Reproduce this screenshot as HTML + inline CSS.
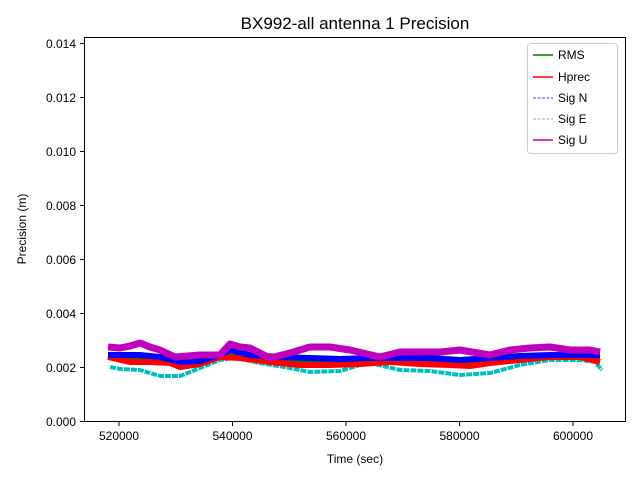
<!DOCTYPE html>
<html><head><meta charset="utf-8"><style>body{margin:0;background:#fff}svg{display:block}text{font-family:"Liberation Sans","DejaVu Sans",sans-serif}</style></head><body>
<svg width="640" height="480" viewBox="0 0 640 480" xmlns="http://www.w3.org/2000/svg">
<rect width="640" height="480" fill="#fff"/>
<text x="355" y="29" font-size="17" text-anchor="middle">BX992-all antenna 1 Precision</text>
<g fill="none" stroke-linejoin="round">
<polyline stroke="#00bfbf" stroke-width="4" stroke-dasharray="6 1" points="110,367 120,369 140,370 150,373 160,376 180,376 200,368 220,360 235,358 260,363 290,368 310,372 340,371 360,365 370,363 400,370 430,371 460,375 490,373 520,365 550,360 580,360 595,362 602,370"/>
<polyline stroke="#008000" stroke-width="5" points="108,356 130,357 160,358 180,362 200,360 220,355 240,357 270,360 300,361 330,361 360,360 390,359 420,360 450,361 470,362 490,360 520,358 550,356 580,356 600,358"/>
<polyline stroke="#ff0000" stroke-width="6" points="108,357 130,362 150,362 170,363 180,367 200,364 220,357 240,358 270,362 300,365 330,365 360,364 390,362 420,364 450,365 470,366 490,363 520,360 550,357 580,357 600,362"/>
<polyline stroke="#0000ff" stroke-width="6" points="108,355 140,355 160,357 180,362 200,361 220,355 230,350 250,355 280,357 310,358 340,359 370,358 400,358 430,358 460,360 490,358 520,356 550,355 580,355 600,355"/>
<polyline stroke="#bf00bf" stroke-width="7" points="108,347 120,348 130,346 140,343 150,347 160,350 175,357 200,355 220,355 230,344 240,347 250,348 270,358 290,353 310,347 330,347 350,350 380,357 400,352 420,352 440,352 460,350 490,355 510,350 530,348 550,347 570,350 590,350 600,352"/>
</g>
<rect x="84.5" y="37.5" width="541" height="384" fill="none" stroke="#000" stroke-width="1"/>
<g stroke="#000">
<line x1="119" y1="422" x2="119" y2="426"/><line x1="232.5" y1="422" x2="232.5" y2="426"/><line x1="346" y1="422" x2="346" y2="426"/><line x1="459.5" y1="422" x2="459.5" y2="426"/><line x1="573" y1="422" x2="573" y2="426"/>
<line x1="80" y1="421.5" x2="84" y2="421.5"/><line x1="80" y1="367.5" x2="84" y2="367.5"/><line x1="80" y1="313.5" x2="84" y2="313.5"/><line x1="80" y1="259.5" x2="84" y2="259.5"/><line x1="80" y1="205.5" x2="84" y2="205.5"/><line x1="80" y1="151.5" x2="84" y2="151.5"/><line x1="80" y1="97.5" x2="84" y2="97.5"/><line x1="80" y1="43.5" x2="84" y2="43.5"/>
</g>
<g font-size="12" text-anchor="middle">
<text x="119" y="440">520000</text><text x="232.5" y="440">540000</text><text x="346" y="440">560000</text><text x="459.5" y="440">580000</text><text x="573" y="440">600000</text>
<text x="355" y="463">Time (sec)</text>
</g>
<g font-size="12" text-anchor="end">
<text x="76" y="426">0.000</text><text x="76" y="372">0.002</text><text x="76" y="318">0.004</text><text x="76" y="264">0.006</text><text x="76" y="210">0.008</text><text x="76" y="156">0.010</text><text x="76" y="102">0.012</text><text x="76" y="48">0.014</text>
</g>
<text transform="translate(26,229) rotate(-90)" font-size="12" text-anchor="middle">Precision (m)</text>
<rect x="527.5" y="43.5" width="90" height="110" rx="3" fill="#fff" fill-opacity="0.8" stroke="#ccc"/>
<g stroke-width="1.5">
<line x1="533" y1="55" x2="553" y2="55" stroke="#008000"/>
<line x1="533" y1="77" x2="553" y2="77" stroke="#ff0000"/>
<line x1="533" y1="98" x2="553" y2="98" stroke="#0000ff" stroke-width="0.8" stroke-dasharray="3 1.5"/>
<line x1="533" y1="119" x2="553" y2="119" stroke="#888" stroke-width="0.8" stroke-dasharray="3 1.5"/>
<line x1="533" y1="140" x2="553" y2="140" stroke="#bf00bf"/>
</g>
<g font-size="12">
<text x="558" y="59">RMS</text><text x="558" y="81">Hprec</text><text x="558" y="102">Sig N</text><text x="558" y="123">Sig E</text><text x="558" y="144">Sig U</text>
</g>
</svg>
</body></html>
